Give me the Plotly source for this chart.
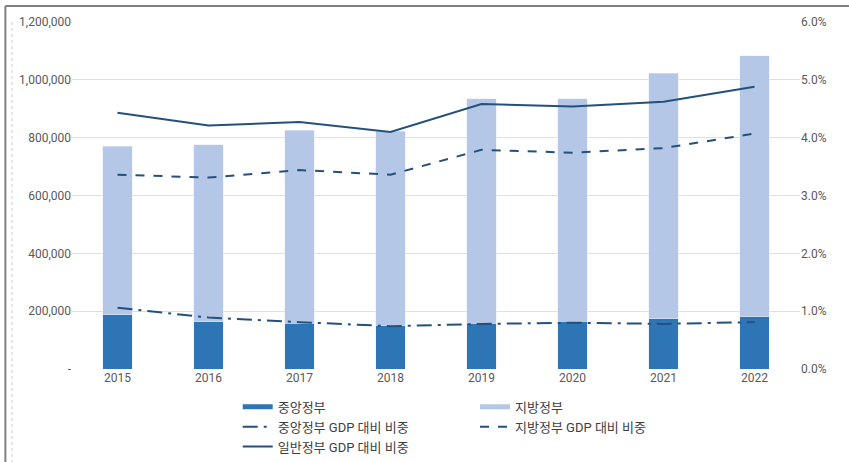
import plotly.graph_objects as go

years = ["2015", "2016", "2017", "2018", "2019", "2020", "2021", "2022"]
central = [187000, 163000, 159000, 149000, 159000, 166000, 173000, 180000]
local = [584000, 612000, 667000, 674000, 775000, 768000, 850000, 903000]
central_gdp = [1.06, 0.89, 0.81, 0.74, 0.78, 0.80, 0.78, 0.81]
local_gdp = [3.36, 3.31, 3.44, 3.36, 3.79, 3.74, 3.82, 4.07]
general_gdp = [4.43, 4.21, 4.27, 4.10, 4.58, 4.54, 4.62, 4.88]

left_ticks = [0, 200000, 400000, 600000, 800000, 1000000, 1200000]
left_labels = ["-", "200,000", "400,000", "600,000", "800,000", "1,000,000", "1,200,000"]
right_ticks = [0, 1, 2, 3, 4, 5, 6]
right_labels = ["0.0%", "1.0%", "2.0%", "3.0%", "4.0%", "5.0%", "6.0%"]

dark_blue = "#2E75B6"
light_blue = "#B4C7E7"
line_color = "#24507E"
font = "Roboto, Noto Sans CJK KR, sans-serif"

fig = go.Figure()
fig.add_trace(go.Bar(x=years, y=central, name="중앙정부", marker_color=dark_blue,
                     width=0.32, showlegend=False))
fig.add_trace(go.Bar(x=years, y=local, name="지방정부", marker_color=light_blue,
                     width=0.32, showlegend=False))
fig.add_trace(go.Scatter(x=years, y=central_gdp, name="중앙정부 GDP 대비 비중", yaxis="y2",
                         mode="lines", line=dict(color=line_color, width=2, dash="longdashdot"),
                         showlegend=False))
fig.add_trace(go.Scatter(x=years, y=local_gdp, name="지방정부 GDP 대비 비중", yaxis="y2",
                         mode="lines", line=dict(color=line_color, width=2, dash="dash"),
                         showlegend=False))
fig.add_trace(go.Scatter(x=years, y=general_gdp, name="일반정부 GDP 대비 비중", yaxis="y2",
                         mode="lines", line=dict(color=line_color, width=2),
                         showlegend=False))

# legend-only entries (bars shown as thick strokes like the original)
def legend_entry(name, color, width, dash, legend):
    fig.add_trace(go.Scatter(x=[None], y=[None], name=name, mode="lines",
                             line=dict(color=color, width=width, dash=dash),
                             legend=legend, hoverinfo="skip"))

legend_entry("중앙정부", dark_blue, 5, "solid", "legend")
legend_entry("중앙정부 GDP 대비 비중", line_color, 2, "longdashdot", "legend")
legend_entry("일반정부 GDP 대비 비중", line_color, 2, "solid", "legend")
legend_entry("지방정부", light_blue, 5, "solid", "legend2")
legend_entry("지방정부 GDP 대비 비중", line_color, 2, "dash", "legend2")

# frame lines (left and top) plus faint dotted line
fig.add_shape(type="line", xref="paper", yref="paper", x0=-0.0915, x1=1.08, y0=1.046, y1=1.046,
              line=dict(color="#7F7F7F", width=2))
fig.add_shape(type="line", xref="paper", yref="paper", x0=-0.0915, x1=-0.0915, y0=1.046, y1=-0.27,
              line=dict(color="#7F7F7F", width=2))
fig.add_shape(type="line", xref="paper", yref="paper", x0=-0.0824, x1=-0.0824, y0=1.0, y1=-0.27,
              line=dict(color="#D0D0D0", width=1, dash="dot"))

legend_style = dict(font=dict(family=font, size=13, color="#404040"), bgcolor="rgba(0,0,0,0)",
                    xref="container", yref="container", yanchor="top", xanchor="left",
                    tracegroupgap=0, itemwidth=30, orientation="v", traceorder="normal")

fig.update_layout(
    width=849, height=462,
    margin=dict(l=72, r=49, t=22, b=93, autoexpand=False),
    paper_bgcolor="white", plot_bgcolor="white",
    barmode="stack", showlegend=True,
    font=dict(family=font, size=12, color="#595959"),
    xaxis=dict(type="category", showgrid=False, showline=False, ticks="", automargin=False,
               tickfont=dict(size=12, color="#595959")),
    yaxis=dict(range=[0, 1200000], tickvals=left_ticks, ticktext=left_labels,
               showgrid=True, gridcolor="#E0E0E0", gridwidth=1, zeroline=False,
               showline=False, ticks="", automargin=False,
               tickfont=dict(size=12, color="#595959")),
    yaxis2=dict(range=[0, 6], tickvals=right_ticks, ticktext=right_labels,
                overlaying="y", side="right", showgrid=False, zeroline=False,
                showline=False, ticks="", automargin=False,
                tickfont=dict(size=12, color="#595959")),
    legend=dict(x=0.280, y=0.152, **legend_style),
    legend2=dict(x=0.5595, y=0.152, **legend_style),
)

# drop the default page margin so the figure sits at the window's top-left
fig.write_html("out.html", config={"displayModeBar": False},
               post_script="document.body.style.margin='0px';")
